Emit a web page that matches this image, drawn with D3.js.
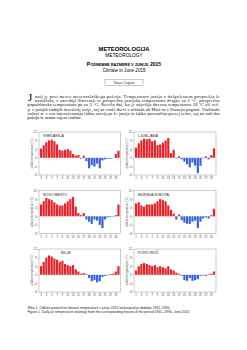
<!DOCTYPE html>
<html>
<head>
<meta charset="utf-8">
<script src="https://cdn.jsdelivr.net/npm/d3@7"></script>
<style>
  body { margin: 0; background: #fff; }
  svg { display: block; }
</style>
</head>
<body>
<div id="chart"></div>
<script>
// daily temperature anomaly (°C) vs 1961-1990, June 2015
const days = d3.range(1, 31)
const stations = ["KREDARICA", "LJUBLJANA", "NOVO MESTO", "MURSKA SOBOTA", "BILJE", "PORTOROŽ"]
const kredarica = [4.3, 5.8, 7.3, 8.1, 8.4, 7.7, 6.2, 3.7, 3.3, 3.7, 4, 3.3, 1.8, 1, 1.3, -0.4, 1, -1.6, -4.9, -3.4, -4.1, -2.7, -4.9, -1.2, -0.7, -0.4, -0.4, -0.1, 1.8, 3.3]
const ljubljana = [4.7, 6.7, 8.1, 8.9, 8.6, 8.9, 7.7, 8.1, 5.9, 6.2, 7.1, 8.1, 9.2, 2.2, 3.7, -0.3, 0.7, -0.7, -1.8, -3, -4.4, -2.2, -3.7, -7.1, -3.7, -0.3, 0.7, -0.7, 1.2, 4.4]
const novoMesto = [5.5, 7, 8.5, 8, 7.5, 6.5, 5.5, 5, 5, 6, 7, 8, 9, 4.5, 1.5, 0.5, 1.5, -1.5, -2.5, -3.5, -1.5, -2, -4, -5.5, -1.5, -0.5, -0.3, -0.2, 0.5, 5.5]
const murskaSobota = [6, 6.5, 5, 4.5, 5.5, 5.5, 5.5, 6, 7, 8, 7.5, 7, 5, 3, 1.2, -1.5, 0.8, -1.8, -3, -3.5, -3.5, -2.5, -2, -5.5, -2.5, -1, -0.5, -1, 0.5, 3.5]
const bilje = [4, 6, 8, 9, 8.5, 7.5, 7, 6, 6.5, 5, 4.5, 4, 4.5, 2.5, 1.5, 0.5, 0.8, 0.3, -1.5, -3, -2.5, -3.5, -3, -1, -0.5, -0.3, 0.3, 0.5, 1.5, 4]
const portoroz = [2, 4, 5, 5.5, 5, 4.5, 4, 4.5, 3.5, 4, 3.5, 3, 4, 2.5, 2, 1, 0.5, -0.5, -2.5, -2.8, -1.5, -2.8, -2.5, -2, -0.5, -0.3, -0.5, 0.3, 0.5, 1.5]
const series = [kredarica, ljubljana, novoMesto, murskaSobota, bilje, portoroz]
const yTicks = [-8, -4, 0, 4, 8, 12]
const xTicks = days.filter(d => d % 2 === 1)

const paragraph = [
    "unij je prvi mesec meteorološkega poletja. Temperatura junija v dolgoletnem povprečju le",
    "naraščala, v osrednji Sloveniji se povprečna junijska temperatura dvigne za 2 °C, povprečna",
    "popoldanska temperatura pa za 3 °C. Število dni, ko je najvišja dnevna temperatura 30 °C ali več,",
    "je v junijih zadnjih desetletij večje, saj so vroči dnevi v nižinah ob Muri in v Posavju pogosti. Vročinski",
    "valovi se z vso intenzivnostjo lahko razvijejo že junija in lahko povzročijo precej težav, saj na začetku",
    "poletja še nismo vajeni vročine."
]

const W = 247, H = 350
const svg = d3.select("#chart").append("svg")
    .attr("width", W).attr("height", H)
    .style("font-family", "'Liberation Sans', Arial, sans-serif")

svg.append("rect").attr("width", W).attr("height", H).attr("fill", "#fff")

// header
svg.append("text").attr("x", 124).attr("y", 51).attr("text-anchor", "middle")
    .attr("font-size", 5.8).attr("font-weight", "bold").text("METEOROLOGIJA")
svg.append("text").attr("x", 124).attr("y", 57).attr("text-anchor", "middle")
    .attr("font-size", 4.8).text("METEOROLOGY")

const sc = svg.append("text").attr("x", 124).attr("y", 65.5).attr("text-anchor", "middle")
    .attr("font-size", 5).attr("font-weight", "bold")
const scWords = ["Podnebne", "razmere", "v", "juniju", "2015"]
scWords.forEach((w, i) => {
    if (/[0-9]/.test(w)) {
        sc.append("tspan").attr("font-size", 5).text(" " + w)
        return
    }
    sc.append("tspan").attr("font-size", i === 0 ? 5 : 3.9).text((i > 0 ? " " : "") + w[0].toUpperCase())
    sc.append("tspan").attr("font-size", 3.9).text(w.slice(1).toUpperCase())
})

svg.append("text").attr("x", 124).attr("y", 71.5).attr("text-anchor", "middle")
    .attr("font-size", 4.6).text("Climate in June 2015")

svg.append("rect").attr("x", 105).attr("y", 79.5).attr("width", 38).attr("height", 6)
    .attr("fill", "none").attr("stroke", "#777").attr("stroke-width", 0.4)
svg.append("text").attr("x", 124).attr("y", 84).attr("text-anchor", "middle")
    .attr("font-size", 3.6).attr("fill", "#333").text("Tanja Cegnar")

// paragraph with drop cap
svg.append("text").attr("x", 28).attr("y", 101.2).attr("font-size", 11)
    .attr("font-family", "'Liberation Serif', 'Times New Roman', serif").text("J")
const lineY = [97.5, 101.8, 106.3, 110.6, 114.9, 119.2]
paragraph.forEach((line, i) => {
    const x0 = i < 2 ? 35 : 27.5
    const t = svg.append("text").attr("x", x0).attr("y", lineY[i])
        .attr("font-size", 4.3)
        .attr("font-family", "'Liberation Serif', 'Times New Roman', serif")
        .text(line)
    if (i < paragraph.length - 1) {
        t.attr("textLength", 219.5 - x0).attr("lengthAdjust", "spacing")
    }
})

// panels
const panelX = [[39, 120.5], [134, 216]]
const panelTop = [132, 190.5, 249]
const panelH = 43

stations.forEach((name, k) => {
    const col = k % 2
    const row = Math.floor(k / 2)
    const [x0, x1] = panelX[col]
    const top = panelTop[row]
    const bottom = top + panelH

    const x = d3.scaleBand().domain(days).range([x0, x1]).paddingInner(0.18).paddingOuter(0.35)
    const y = d3.scaleLinear().domain([-8, 12]).range([bottom, top])

    const g = svg.append("g")

    g.append("rect").attr("x", x0).attr("y", top).attr("width", x1 - x0).attr("height", panelH)
        .attr("fill", "none").attr("stroke", "#9a9a9a").attr("stroke-width", 0.5)

    g.selectAll(".bar").data(series[k]).enter().append("rect")
        .attr("x", (d, i) => x(days[i]))
        .attr("width", x.bandwidth())
        .attr("y", d => y(Math.max(0, d)))
        .attr("height", d => Math.abs(y(d) - y(0)))
        .attr("fill", d => d >= 0 ? "#e3242b" : "#3a63d9")

    const yAxis = g.append("g").attr("transform", "translate(" + x0 + ",0)")
        .call(d3.axisLeft(y).tickValues(yTicks).tickSize(1.2).tickPadding(1))
    const xAxis = g.append("g").attr("transform", "translate(0," + bottom + ")")
        .call(d3.axisBottom(x).tickValues(xTicks).tickSize(1.2).tickPadding(1.2))
    ;[yAxis, xAxis].forEach(a => {
        a.select(".domain").remove()
        a.selectAll("line").attr("stroke", "#888").attr("stroke-width", 0.4)
        a.selectAll("text").attr("font-size", 2.8).attr("fill", "#444")
            .attr("font-family", "'Liberation Sans', Arial, sans-serif")
    })

    g.append("text")
        .attr("transform", "translate(" + (x0 - 6.5) + "," + (top + panelH / 2) + ") rotate(-90)")
        .attr("text-anchor", "middle").attr("font-size", 2.8).attr("fill", "#555")
        .text("odklon temperature (°C)")

    const lx = name === "BILJE" ? x0 + 22 : x0 + 4
    g.append("text").attr("x", lx).attr("y", top + 5).attr("font-size", 3.6).attr("fill", "#222")
        .text(name)
})

// caption
svg.append("text").attr("x", 27.5).attr("y", 308.5).attr("font-size", 3.4).attr("fill", "#222")
    .text("Slika 1. Odklon povprečne dnevne temperature v juniju 2015 od povprečja obdobja 1961–1990")
svg.append("text").attr("x", 27.5).attr("y", 313).attr("font-size", 3.4).attr("fill", "#222")
    .text("Figure 1. Daily air temperature anomaly from the corresponding means of the period 1961–1990, June 2015")
</script>
</body>
</html>
